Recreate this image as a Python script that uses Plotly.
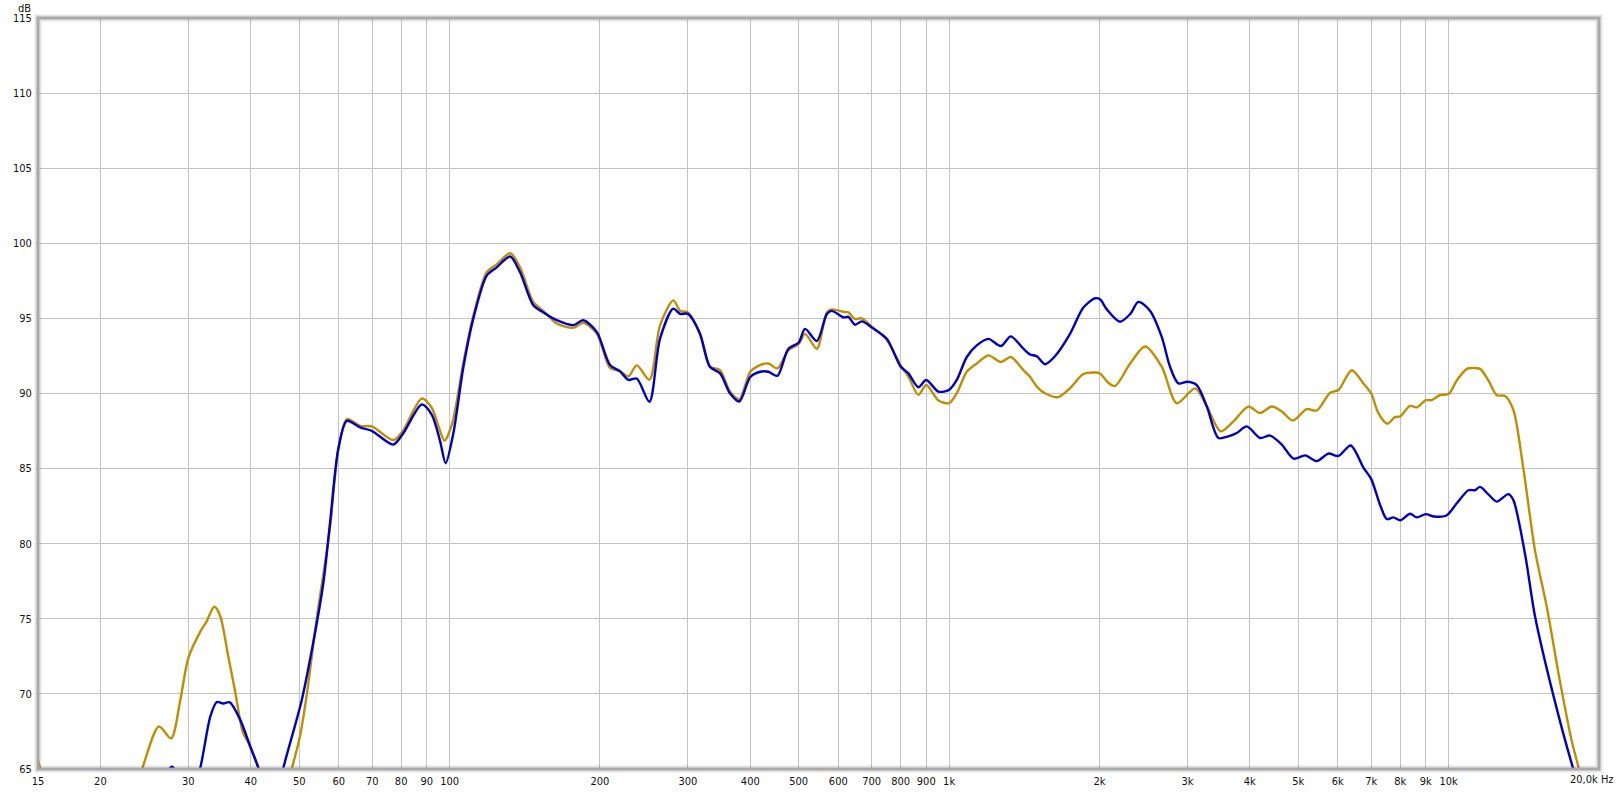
import plotly.graph_objects as go
import math

# ---- data (Hz, dB) ----
blue_freq = [25, 27.0, 27.8, 28.6, 30, 31.7, 33.2, 34.2, 35.2, 36.3, 38.1, 39.9, 41.4, 43.5, 45, 46.5,
             50.6, 53.4, 55.9, 57.6, 59.9, 62.3, 66.2, 70, 77.1, 80.6, 88, 92.1, 95.7, 98.2, 101.7,
             106.5, 111.6, 118.7, 124.3, 132.2, 138.4, 147.1, 154.1, 163.9, 176.9, 185.2, 197.1,
             209.5, 219.4, 228, 237, 251.2, 263.9, 280.5, 289.4, 300, 317, 332, 348, 364.4, 380.3,
             400, 418.4, 434.7, 453.1, 476.7, 500, 514.8, 543.5, 569, 582, 614.3, 628.6, 648, 668.6,
             700, 750.3, 800, 828.8, 868, 900, 951.7, 1000, 1036, 1085, 1136, 1198.6, 1269, 1329,
             1408, 1452, 1498, 1556, 1629, 1746, 1857, 1959, 2005, 2069, 2199, 2304, 2393, 2526,
             2666, 2769, 2877, 3000, 3132, 3281, 3460, 3623, 3766, 3944, 4193, 4391, 4635, 4892,
             5162, 5446, 5747, 6017, 6369, 6752, 7000, 7292, 7520, 7752, 8000, 8371, 8635, 9000,
             9350, 9900, 10382, 10956, 11290, 11560, 12012, 12486, 13172, 13479, 14224, 14895,
             16206, 17730, 19000]
blue_db = [62, 64.6, 65.15, 64.6, 62.5, 65.1, 68.5, 69.46, 69.36, 69.44, 68.27, 66.5, 65.1, 62.5, 63.0, 65.1,
           69.6, 73.5, 77.4, 81.3, 86.35, 88.18, 87.74, 87.5, 86.6, 87.3, 89.27, 88.6, 86.85, 85.36, 87.3,
           91.7, 95.0, 97.85, 98.4, 99.12, 98.07, 95.87, 95.4, 94.88, 94.55, 94.88, 94.1,
           91.9, 91.47, 90.9, 91.0, 89.45, 93.67, 95.65, 95.3, 95.3, 94.0, 91.78, 91.34, 90.0, 89.47,
           91.1, 91.45, 91.45, 91.18, 92.98, 93.4, 94.3, 93.49, 95.28, 95.5, 95.07, 95.1, 94.58, 94.8,
           94.4, 93.64, 91.78, 91.34, 90.42, 90.9, 90.13, 90.24, 90.9, 92.43, 93.2, 93.64, 93.16, 93.8,
           92.98, 92.6, 92.48, 91.95, 92.48, 93.97, 95.72, 96.34, 96.27, 95.6, 94.78, 95.29, 96.1, 95.5,
           93.75, 91.77, 90.67, 90.78, 90.56, 89.13, 87.04, 87.15, 87.37, 87.81, 87.04, 87.2, 86.6, 85.66,
           85.88, 85.5, 86.0, 85.84, 86.54, 85.07, 84.3, 82.58, 81.64, 81.75, 81.55, 81.99, 81.75, 81.97,
           81.81, 81.88, 82.69, 83.56, 83.56, 83.78, 83.28, 82.8, 83.3, 82.9, 79.3, 75.15,
           69.9, 65.1, 62]

gold_freq = [15, 15.6, 17, 22, 24.3, 26.2, 27.7, 28.9, 30.0, 31.7, 32.6, 33.8, 34.7, 36.1, 37.2, 38.6, 39.6,
             41.4, 44, 46.5, 48.4, 50.2, 51.8, 54.2, 57.6, 59.9, 62.3, 66.2, 70, 77.1, 80.6, 88, 92.1,
             95.5, 97.7, 101.2, 106.5, 111.6, 118.7, 124.3, 132.2, 138.4, 147.1, 154.1, 163.9, 176.9,
             185.2, 197.1, 209.5, 219.4, 228, 237, 251.2, 263.9, 280.5, 289.4, 300, 317, 332, 348, 364.4,
             380.3, 400, 418.4, 434.7, 453.1, 476.7, 500, 514.8, 543.5, 569, 582, 614.3, 628.6, 648,
             668.6, 700, 750.3, 800, 828.8, 868, 900, 951.7, 1000, 1036, 1085, 1136, 1198.6, 1269, 1329,
             1408, 1452, 1498, 1556, 1655, 1746, 1857, 1959, 2005, 2083, 2149, 2304, 2468, 2666, 2856,
             3108, 3281, 3498, 3708, 3972, 4193, 4427, 4635, 4876, 5200, 5446, 5792, 6017, 6399, 6752,
             7000, 7234, 7541, 7812, 8000, 8371, 8635, 9000, 9253, 9616, 10000, 10382, 10875, 11130,
             11560, 12012, 12486, 12973, 13479, 14115, 14895, 15720, 16713, 17640, 18270, 19500]
gold_db = [65.6, 63.5, 60, 60, 65.1, 67.83, 67.03, 69.58, 72.4, 74.15, 74.8, 75.8, 75.24, 72.4, 70.2, 67.4, 66.74,
           65.1, 62.5, 62.8, 65.1, 67.2, 70.0, 75.0, 81.0, 86.3, 88.3, 87.85, 87.8, 86.9, 87.5, 89.67, 89.05,
           87.6, 86.86, 88.0, 92.0, 95.2, 98.07, 98.6, 99.34, 98.4, 96.09, 95.5, 94.66, 94.37,
           94.7, 94.0, 91.7, 91.5, 91.14, 91.87, 90.92, 94.55, 96.2, 95.5, 95.4, 94.0, 91.8, 91.56, 90.13,
           89.63, 91.45, 91.89, 92.0, 91.67, 92.87, 93.3, 93.97, 92.98, 95.39, 95.6, 95.44, 95.4, 94.96,
           95.0, 94.45, 93.57, 91.89, 91.12, 89.91, 90.57, 89.54, 89.36, 90.02, 91.45, 92.0, 92.54, 92.1, 92.43,
           91.56, 91.12, 90.46, 90.02, 89.76, 90.35, 91.3, 91.4, 91.33, 90.72, 90.5, 92.0, 93.13, 91.77, 89.35,
           90.34, 89.13, 87.48, 88.14, 89.13, 88.7, 89.13, 88.8, 88.2, 88.96, 88.87, 90.05, 90.23, 91.55, 90.67,
           90.0, 88.69, 87.99, 88.43, 88.47, 89.17, 89.08, 89.56, 89.56, 89.9, 89.96, 90.87, 91.64, 91.7,
           91.64, 90.87, 89.89, 89.83, 88.9, 84.98, 79.52, 75.8, 70.8, 66.86, 64.9, 61]

x_tickvals = [15, 20, 30, 40, 50, 60, 70, 80, 90, 100, 200, 300, 400, 500, 600, 700, 800, 900, 1000,
              2000, 3000, 4000, 5000, 6000, 7000, 8000, 9000, 10000, 20000]
x_ticktext = ["15", "20", "30", "40", "50", "60", "70", "80", "90", "100", "200", "300", "400", "500",
              "600", "700", "800", "900", "1k", "2k", "3k", "4k", "5k", "6k", "7k", "8k", "9k", "10k", ""]
y_tickvals = [65, 70, 75, 80, 85, 90, 95, 100, 105, 110, 115]

BLUE = "#0000C4"
GOLD = "#BE8F00"
FONT = "Liberation Sans Narrow, DejaVu Sans Condensed, Liberation Sans, sans-serif"
FS = 11

fig = go.Figure()
fig.add_trace(go.Scatter(x=gold_freq, y=gold_db, mode="lines",
                         line=dict(color=GOLD, width=2.4, shape="spline", smoothing=0.8),
                         showlegend=False, hoverinfo="skip"))
fig.add_trace(go.Scatter(x=blue_freq, y=blue_db, mode="lines",
                         line=dict(color=BLUE, width=2.4, shape="spline", smoothing=0.8),
                         showlegend=False, hoverinfo="skip"))

W, H = 1617, 800
L, R, T, B = 38, 18, 15, 20
pw, ph = W - L - R, H - T - B

fig.update_layout(
    width=W, height=H,
    margin=dict(l=L, r=R, t=T, b=B, pad=0),
    paper_bgcolor="white", plot_bgcolor="white",
    font=dict(family=FONT, size=FS, color="#111111"),
    xaxis=dict(type="log", range=[math.log10(15), math.log10(20000)],
               tickvals=x_tickvals, ticktext=x_ticktext,
               showgrid=True, gridcolor="#C4C4C4", gridwidth=1,
               zeroline=False, showline=False,
               ticks="outside", ticklen=2, tickcolor="rgba(0,0,0,0)",
               tickfont=dict(size=FS, family=FONT, color="#111111")),
    yaxis=dict(range=[65, 115], tickvals=y_tickvals,
               showgrid=True, gridcolor="#C4C4C4", gridwidth=1,
               zeroline=False, showline=False,
               ticks="outside", ticklen=3, tickcolor="rgba(0,0,0,0)",
               tickfont=dict(size=FS, family=FONT, color="#111111")),
    shapes=[
        dict(type="rect", xref="paper", yref="paper", x0=0, x1=1, y0=0, y1=1,
             line=dict(color="rgba(0,0,0,0.10)", width=7), layer="above"),
        dict(type="rect", xref="paper", yref="paper", x0=0, x1=1, y0=0, y1=1,
             line=dict(color="#A9A9A9", width=3), layer="above"),
    ],
    annotations=[
        dict(text="dB", xref="paper", yref="paper", x=(24 - L) / pw, y=1 + (T - 5) / ph,
             xanchor="center", yanchor="middle", showarrow=False,
             font=dict(size=FS, family=FONT, color="#111111")),
        dict(text="20,0k Hz", xref="paper", yref="paper", x=(1616 - L) / pw, y=-(791 - (H - B)) / ph,
             xanchor="right", yanchor="middle", showarrow=False,
             font=dict(size=FS, family=FONT, color="#111111")),
    ],
)

fig.write_html("out.html", config={"displayModeBar": False},
               post_script="document.body.style.margin='0';")
